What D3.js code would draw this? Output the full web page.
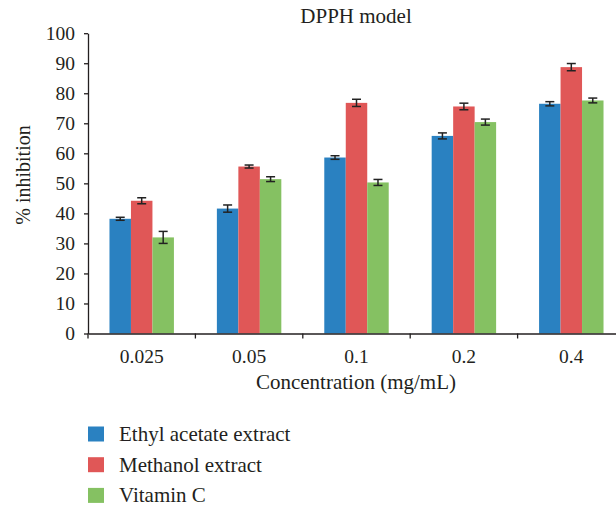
<!DOCTYPE html>
<html>
<head>
  <meta charset="utf-8">
  <title>DPPH model</title>
  <script src="https://cdn.jsdelivr.net/npm/d3@7"></script>
  <style>
    body { margin: 0; background: #fff; }
    text { font-family: "Liberation Serif", "DejaVu Serif", serif; fill: #231f20; }
  </style>
</head>
<body>
<script>
// data
const concentrations = ["0.025", "0.05", "0.1", "0.2", "0.4"];
const seriesNames = ["Ethyl acetate extract", "Methanol extract", "Vitamin C"];
const ethylAcetate = [38.2, 41.6, 58.6, 65.8, 76.5];
const methanol = [44.2, 55.6, 76.8, 75.6, 88.7];
const vitaminC = [32.0, 51.4, 50.3, 70.4, 77.6];
const ethylAcetateErr = [0.5, 1.2, 0.6, 1.0, 0.7];
const methanolErr = [1.0, 0.5, 1.2, 1.1, 1.2];
const vitaminCErr = [2.0, 0.8, 1.0, 1.0, 0.8];
const yTicks = [0, 10, 20, 30, 40, 50, 60, 70, 80, 90, 100];

const colors = ["#2a81c1", "#e05757", "#85c162"];
const values = [ethylAcetate, methanol, vitaminC];
const errors = [ethylAcetateErr, methanolErr, vitaminCErr];

const w = 616, h = 506;
const mLeft = 88, mBottom = 333.5, mTop = 33.2, mRight = 625;

const svg = d3.select("body").append("svg")
  .attr("width", w).attr("height", h);

const x = d3.scaleBand().domain(concentrations).range([mLeft, mRight]);
const xSub = d3.scaleBand().domain(seriesNames)
  .range([x.bandwidth() * 0.2, x.bandwidth() * 0.8]);
const y = d3.scaleLinear().domain([0, 100]).range([mBottom, mTop]);

// rows for drawing
const rows = [];
concentrations.forEach((c, i) => {
  seriesNames.forEach((s, j) => {
    rows.push({ c: c, s: s, v: values[j][i], e: errors[j][i], col: colors[j] });
  });
});

svg.append("g").selectAll("rect")
  .data(rows).enter().append("rect")
  .attr("x", d => x(d.c) + xSub(d.s))
  .attr("width", xSub.bandwidth())
  .attr("y", d => y(d.v))
  .attr("height", d => mBottom - y(d.v))
  .attr("fill", d => d.col);

// error bars
const eb = svg.append("g").attr("stroke", "#222").attr("stroke-width", 1.5);
rows.forEach(d => {
  const cx = x(d.c) + xSub(d.s) + xSub.bandwidth() / 2;
  eb.append("line").attr("x1", cx).attr("x2", cx)
    .attr("y1", y(d.v + d.e)).attr("y2", y(d.v - d.e));
  [d.v + d.e, d.v - d.e].forEach(t => {
    eb.append("line").attr("x1", cx - 4.5).attr("x2", cx + 4.5)
      .attr("y1", y(t)).attr("y2", y(t));
  });
});

// axes
const xAxis = svg.append("g")
  .attr("transform", `translate(0,${mBottom})`)
  .call(d3.axisBottom(x).tickSize(0).tickPadding(16));
xAxis.select(".domain").attr("stroke", "#231f20").attr("stroke-width", 1.3);
xAxis.selectAll("text").attr("font-size", 19.5).attr("font-family", null);
// tick marks on category boundaries
xAxis.selectAll(".sep")
  .data(concentrations).enter().append("line")
  .attr("x1", d => x(d)).attr("x2", d => x(d))
  .attr("y1", 0).attr("y2", 5)
  .attr("stroke", "#231f20").attr("stroke-width", 1.3);

const yAxis = svg.append("g")
  .attr("transform", `translate(${mLeft},0)`)
  .call(d3.axisLeft(y).tickValues(yTicks).tickSize(4).tickPadding(9).tickSizeOuter(0));
yAxis.select(".domain").attr("stroke", "#231f20").attr("stroke-width", 1.3);
yAxis.selectAll("line").attr("stroke", "#231f20").attr("stroke-width", 1.3);
yAxis.selectAll("text").attr("font-size", 19.5).attr("font-family", null);

// titles
svg.append("text").attr("x", 356).attr("y", 23)
  .attr("text-anchor", "middle").attr("font-size", 21).text("DPPH model");
svg.append("text").attr("x", 356).attr("y", 389)
  .attr("text-anchor", "middle").attr("font-size", 21).text("Concentration (mg/mL)");
svg.append("text")
  .attr("transform", "translate(30,175) rotate(-90)")
  .attr("text-anchor", "middle").attr("font-size", 20).text("% inhibition");

// legend
const legend = svg.append("g").selectAll("g")
  .data(seriesNames).enter().append("g")
  .attr("transform", (d, i) => `translate(88,${426.5 + i * 30.7})`);
legend.append("rect").attr("width", 16).attr("height", 15)
  .attr("fill", (d, i) => colors[i]);
legend.append("text").attr("x", 31).attr("y", 14.5)
  .attr("font-size", 21).text(d => d);
</script>
</body>
</html>
